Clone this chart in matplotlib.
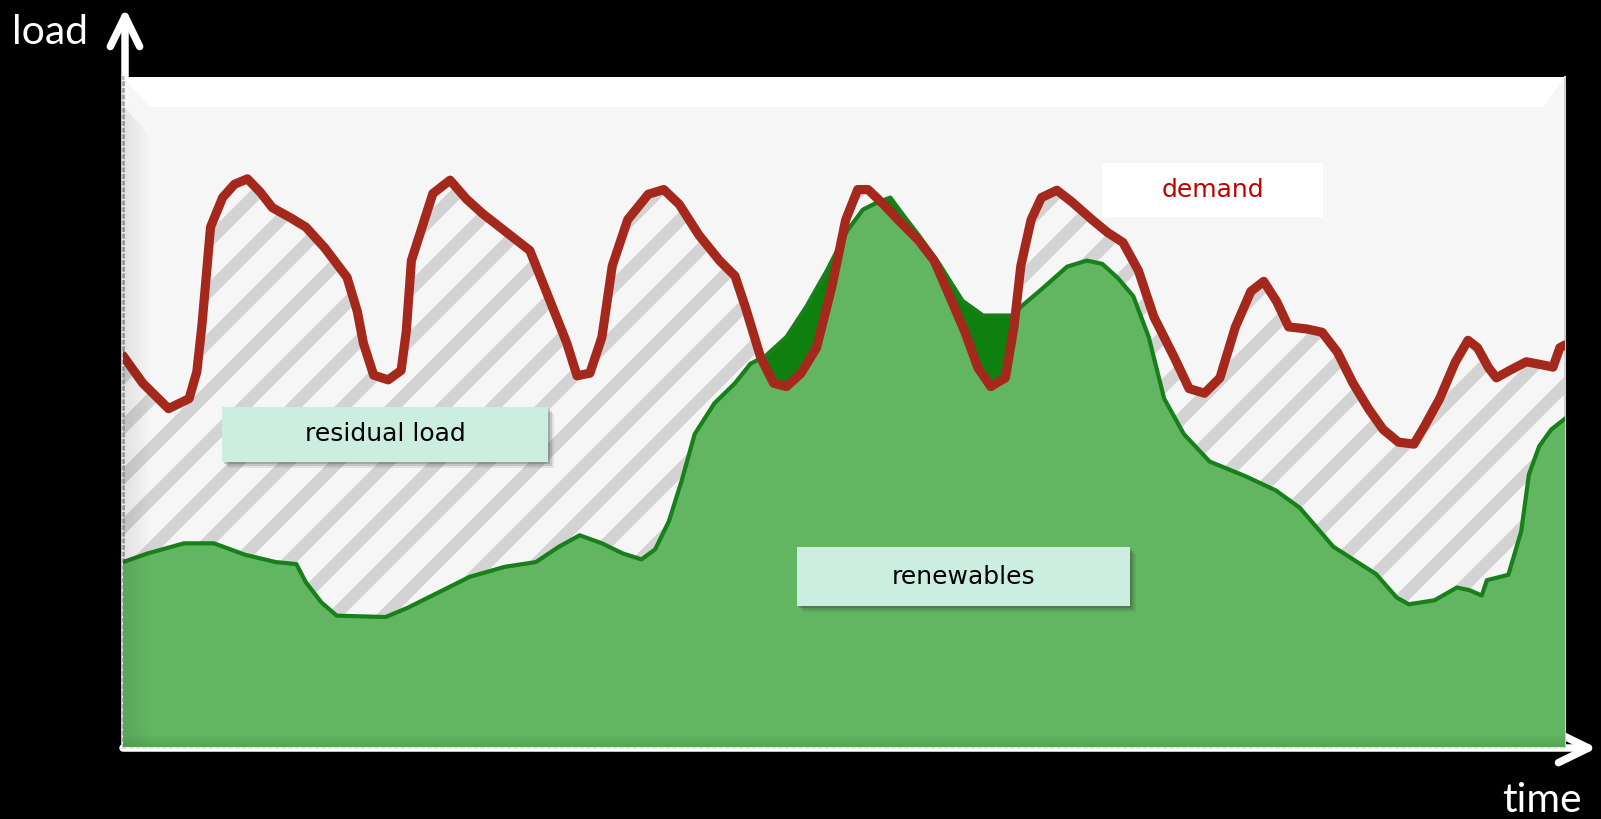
import matplotlib.pyplot as plt
import numpy as np
from matplotlib.patches import Rectangle, Polygon, FancyArrowPatch

# one week of hourly-ish samples, load as % of the axis height
demand_t = [0, 2.3, 5.3, 7.7, 8.6, 9.2, 10.2, 11.6, 13.0, 14.5,
            16.0, 17.4, 19.5, 21.3, 23.5, 26.1, 27.3, 28.0, 29.2, 30.9,
            32.4, 33.0, 33.6, 36.1, 38.1, 40.0, 41.9, 44.5, 47.4, 49.4,
            51.7, 52.9, 54.4, 55.8, 57.0, 58.8, 61.2, 63.0, 64.8, 67.1,
            69.5, 71.3, 72.5, 74.3, 75.8, 77.3, 79.0, 80.8, 82.6, 84.2,
            85.6, 86.8, 88.6, 90.3, 92.7, 94.5, 96.3, 98.1, 99.6, 101.1,
            102.8, 103.8, 104.6, 105.8, 107.0, 108.8, 110.6, 112.9, 114.7, 116.5,
            118.3, 120.1, 122.5, 124.2, 126.0, 127.8, 129.6, 131.4, 132.9, 134.4,
            135.8, 137.9, 139.7, 141.5, 143.3, 145.1, 146.8, 148.6, 150.4, 151.6,
            153.4, 155.2, 156.7, 157.8, 159.1, 160.0, 161.7, 163.5, 165.5, 166.6,
            167.4, 168.0]
demand = [58.4, 54.3, 50.5, 52.0, 56.0, 63.0, 77.6, 82.0, 84.0, 84.8,
          82.8, 80.5, 79.0, 77.6, 74.5, 70.1, 65.0, 60.3, 55.5, 54.8,
          56.2, 62.0, 72.6, 82.6, 84.6, 81.8, 79.6, 77.0, 74.1, 67.7,
          60.3, 55.4, 55.8, 61.2, 71.8, 78.7, 82.5, 83.2, 81.0, 76.4,
          72.6, 70.3, 65.7, 58.1, 54.3, 53.8, 55.8, 59.6, 68.8, 78.7,
          83.2, 83.2, 81.0, 78.7, 75.6, 72.6, 67.3, 61.9, 56.6, 53.8,
          55.1, 62.7, 71.8, 78.7, 82.0, 83.1, 81.3, 78.7, 76.8, 75.3,
          71.1, 64.2, 58.1, 53.5, 52.8, 55.1, 62.7, 68.0, 69.5, 66.5,
          62.7, 62.4, 61.9, 58.9, 54.3, 50.5, 47.4, 45.5, 45.2, 47.8,
          52.0, 57.4, 60.7, 59.6, 56.6, 55.1, 56.3, 57.5, 57.0, 56.7,
          59.6, 60.0]

renew_t = [0, 2.9, 7.1, 10.6, 14.2, 17.8, 20.2, 21.3, 23.1, 24.9,
           30.6, 33.2, 36.8, 40.4, 44.5, 48.1, 50.8, 53.2, 55.8, 58.2,
           60.4, 62.0, 63.6, 65.1, 66.6, 68.9, 71.3, 73.1, 74.9, 77.3,
           79.6, 82.0, 84.4, 86.2, 87.9, 89.4, 90.9, 92.7, 95.1, 97.8,
           100.2, 103.7, 104.6, 107.0, 110.0, 112.3, 114.1, 115.9, 117.7, 119.5,
           121.3, 123.6, 126.6, 130.8, 134.3, 137.1, 141.0, 146.0, 148.4, 149.8,
           152.8, 155.4, 156.9, 158.3, 158.9, 161.4, 162.9, 163.8, 165.0, 166.4,
           168.0]
renew = [27.6, 28.9, 30.4, 30.4, 28.7, 27.6, 27.3, 24.6, 21.6, 19.6,
         19.4, 20.8, 23.1, 25.4, 26.9, 27.6, 29.9, 31.6, 30.4, 28.9,
         28.0, 29.5, 33.7, 39.8, 46.7, 51.3, 54.3, 57.2, 58.4, 61.2,
         65.7, 71.1, 77.1, 80.2, 81.3, 82.0, 79.4, 76.4, 72.1, 66.6,
         64.4, 64.4, 65.7, 68.3, 71.7, 72.6, 72.1, 70.0, 67.3, 61.2,
         52.0, 46.7, 42.6, 40.4, 38.3, 35.7, 29.9, 25.8, 22.3, 21.3,
         21.9, 23.8, 23.4, 22.6, 24.9, 25.7, 32.2, 40.7, 44.9, 47.4,
         49.0]

W, H, DPI = 1601, 819, 300
plt.rcParams['hatch.linewidth'] = 3.0
plt.rcParams['hatch.color'] = '#d3d3d3'

fig = plt.figure(figsize=(W / DPI, H / DPI), dpi=DPI, facecolor='black')
ax = fig.add_axes([123 / W, 72 / H, 1442 / W, 670 / H])
ax.set_facecolor('#f6f6f6')

# residual load = hatched area under the demand curve
ax.fill_between(demand_t, demand, 0, facecolor='none', edgecolor='#d3d3d3',
                hatch='//', linewidth=0, zorder=1)
# renewables: dark green where they exceed demand ...
ren_fill = ax.fill_between(renew_t, renew, 0, facecolor='#0f800f',
                           linewidth=0, zorder=2)
# ... light green where they only cover part of the demand
cover = ax.fill_between(demand_t, demand, 0, facecolor='#62b662',
                        linewidth=0, zorder=3)
cover.set_clip_path(ren_fill.get_paths()[0], ax.transData)

ax.plot(renew_t, renew, color='#18801a', lw=1.0, zorder=4)
ax.plot(demand_t, demand, color='#a5281d', lw=2.2, zorder=5,
        solid_capstyle='round', solid_joinstyle='round')

ax.set_xlim(0, 168)
ax.set_ylim(0, 100)
ax.set_xticks([])
ax.set_yticks([])

# bevelled frame: white top band and a soft shade along the left edge
ax.add_patch(Polygon([(0, 1), (1, 1), (0.985, 0.955), (0.019, 0.955)],
                     closed=True, transform=ax.transAxes, facecolor='white',
                     edgecolor='none', zorder=6))
n_steps = 14
for i in range(n_steps):
    x0 = 0.019 * i / n_steps
    ax.add_patch(Rectangle((x0, 0), 0.019 / n_steps, 0.955 - 0.045 * i / n_steps,
                           transform=ax.transAxes, facecolor='black',
                           alpha=0.08 * (1 - i / n_steps), edgecolor='none',
                           zorder=6))
for i in range(6):
    ax.add_patch(Rectangle((0, 0), 1, 0.018 * (1 - i / 6), transform=ax.transAxes,
                           facecolor='black', alpha=0.012, edgecolor='none',
                           zorder=6))

ax.spines['top'].set_visible(False)
ax.spines['left'].set(color='#9a9a9a', linestyle=':', linewidth=0.6)
ax.spines['bottom'].set(color='#e0e0e0', linestyle=':', linewidth=0.6)
ax.spines['right'].set(color='#d0d0d0', linewidth=0.5)


def label_box(x0, y0, x1, y1, text, face, color='black', shadow=True):
    if shadow:
        for k, a in zip([6, 4, 2], [0.10, 0.15, 0.22]):
            ax.add_patch(Rectangle((x0 + k / 1442, y0 - k / 670), x1 - x0, y1 - y0,
                                   transform=ax.transAxes, facecolor='#303030',
                                   alpha=a, edgecolor='none', zorder=7))
    ax.add_patch(Rectangle((x0, y0), x1 - x0, y1 - y0, transform=ax.transAxes,
                           facecolor=face, edgecolor='none', zorder=8))
    ax.text((x0 + x1) / 2, (y0 + y1) / 2, text, transform=ax.transAxes,
            ha='center', va='center', fontsize=6, color=color,
            family='DejaVu Sans', zorder=9)


label_box(0.0687, 0.4254, 0.2947, 0.5075, 'residual load', '#cbeee0')
label_box(0.4674, 0.2104, 0.6983, 0.2985, 'renewables', '#cbeee0')
label_box(0.679, 0.791, 0.8322, 0.8716, 'demand', 'white', color='#c00000',
          shadow=False)

# white axis arrows behind the panel
arrow_kw = dict(arrowstyle='->, head_length=0.45, head_width=0.22',
                mutation_scale=16, lw=1.8, color='white', shrinkA=0, shrinkB=0,
                capstyle='round', joinstyle='round', transform=fig.transFigure,
                zorder=-1)
fig.add_artist(FancyArrowPatch((125 / W, 1 - 747 / H), (125 / W, 1 - 8 / H),
                               **arrow_kw))
fig.add_artist(FancyArrowPatch((123 / W, 1 - 748 / H), (1597 / W, 1 - 748 / H),
                               **arrow_kw))

fig.text(12 / W, 1 - 44 / H, 'load', family='Lato', fontsize=9.8,
         color='white', ha='left', va='baseline')
fig.text(1582 / W, 1 - 812 / H, 'time', family='Lato', fontsize=9.8,
         color='white', ha='right', va='baseline')

fig.savefig('out.png', dpi=DPI, facecolor='black')
